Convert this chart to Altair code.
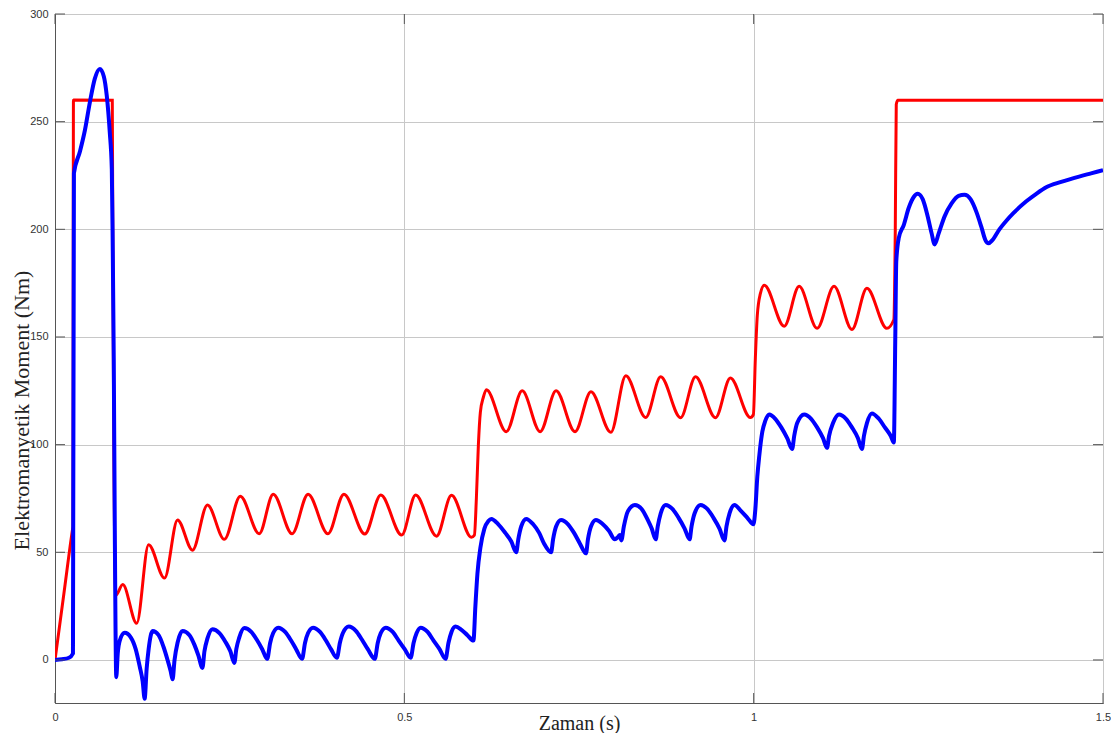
import altair as alt
import pandas as pd

# Reference (commanded) torque - red
ref_t = [0.0000, 0.0128, 0.0250, 0.0257, 0.0264, 0.0820, 0.0827, 0.0870, 0.0970, 0.1169, 0.1340, 0.1568,
         0.1754, 0.1968, 0.2182, 0.2424, 0.2652, 0.2923, 0.3123, 0.3394, 0.3622, 0.3907,
         0.4135, 0.4434, 0.4663, 0.4962, 0.5162, 0.5461, 0.5675, 0.5960, 0.6003, 0.6031,
         0.6060, 0.6088, 0.6131, 0.6174, 0.6459, 0.6687, 0.6944, 0.7172, 0.7443, 0.7671,
         0.7956, 0.8170, 0.8455, 0.8669, 0.8954, 0.9168, 0.9453, 0.9667, 0.9953, 0.9996,
         1.0024, 1.0052, 1.0095, 1.0152, 1.0437, 1.0651, 1.0908, 1.1150, 1.1407, 1.1621,
         1.1906, 1.2006, 1.2027, 1.2041, 1.2063, 1.5000]
ref_y = [0, 31, 60.5, 62, 260, 260, 200, 30, 35, 17, 53.5, 38,
         65, 51, 72, 56, 76, 58.6, 77, 58.6, 77, 58.6,
         77, 58.5, 76.6, 58, 76.6, 57.5, 76.5, 57, 58, 75,
         100, 115, 122, 125.5, 106, 125, 106, 125, 106, 124.6,
         105.7, 132, 112.6, 131.5, 112.5, 131.5, 112.5, 131, 112.6, 114,
         140, 160, 170, 174, 155, 173.5, 154, 173.5, 153.5, 172.6,
         154, 158, 200, 258, 260, 260]

# Actual electromagnetic torque - blue
act_t = [0.0000, 0.0100, 0.0200, 0.0257, 0.0271, 0.0356, 0.0428, 0.0499, 0.0570, 0.0642,
         0.0699, 0.0741, 0.0784, 0.0813, 0.0827, 0.0841, 0.0856, 0.0877, 0.0898, 0.0927,
         0.0998, 0.1084, 0.1155, 0.1212, 0.1255, 0.1283, 0.1312, 0.1340, 0.1397, 0.1483,
         0.1554, 0.1611, 0.1654, 0.1683, 0.1711, 0.1754, 0.1825, 0.1925, 0.1996, 0.2053,
         0.2110, 0.2139, 0.2182, 0.2253, 0.2353, 0.2438, 0.2510, 0.2567, 0.2595, 0.2638,
         0.2709, 0.2809, 0.2895, 0.2966, 0.3037, 0.3080, 0.3123, 0.3194, 0.3294, 0.3379,
         0.3451, 0.3536, 0.3579, 0.3622, 0.3693, 0.3793, 0.3878, 0.3950, 0.4035, 0.4078,
         0.4121, 0.4206, 0.4306, 0.4392, 0.4477, 0.4577, 0.4620, 0.4663, 0.4734, 0.4834,
         0.4919, 0.5005, 0.5091, 0.5133, 0.5176, 0.5233, 0.5333, 0.5418, 0.5504, 0.5590,
         0.5632, 0.5675, 0.5732, 0.5818, 0.5903, 0.5989, 0.6017, 0.6046, 0.6088, 0.6146,
         0.6203, 0.6245, 0.6345, 0.6445, 0.6531, 0.6602, 0.6631, 0.6673, 0.6744, 0.6844,
         0.6930, 0.7001, 0.7101, 0.7129, 0.7172, 0.7243, 0.7343, 0.7429, 0.7514, 0.7600,
         0.7628, 0.7671, 0.7742, 0.7842, 0.7928, 0.8013, 0.8056, 0.8085, 0.8106, 0.8142,
         0.8199, 0.8299, 0.8399, 0.8484, 0.8541, 0.8598, 0.8627, 0.8669, 0.8741, 0.8840,
         0.8926, 0.9012, 0.9083, 0.9111, 0.9154, 0.9240, 0.9339, 0.9425, 0.9511, 0.9582,
         0.9611, 0.9654, 0.9725, 0.9824, 0.9910, 0.9996, 1.0024, 1.0052, 1.0081, 1.0124,
         1.0166, 1.0223, 1.0309, 1.0395, 1.0480, 1.0551, 1.0580, 1.0623, 1.0723, 1.0822,
         1.0908, 1.0993, 1.1050, 1.1079, 1.1136, 1.1221, 1.1321, 1.1407, 1.1493, 1.1550,
         1.1578, 1.1621, 1.1692, 1.1792, 1.1878, 1.1963, 1.2006, 1.2027, 1.2041, 1.2077,
         1.2148, 1.2220, 1.2291, 1.2348, 1.2419, 1.2491, 1.2548, 1.2590, 1.2647, 1.2733,
         1.2833, 1.2933, 1.3018, 1.3104, 1.3189, 1.3260, 1.3317, 1.3360, 1.3417, 1.3517,
         1.3617, 1.3717, 1.3902, 1.4045, 1.4187, 1.4401, 1.4658, 1.4829, 1.5000]
act_y = [0, 0.3, 1, 3, 226, 236, 246, 259, 270, 274.5,
         271, 262, 245, 228, 190, 140, 60, -8, 3, 9,
         12.6, 10.5, 5, -3, -10, -18, -4, 5, 13.4, 11.5,
         6, 0, -5, -9, 0, 8, 13.4, 11.5, 7, 2,
         -3.7, 4, 10, 14.3, 12.5, 8.5, 4, -1.4, 5, 10.5,
         14.8, 13, 9, 5, 0.5, 8, 12.5, 15, 13, 9,
         5, 0.5, 8, 12.5, 15, 13, 9, 5, 1, 8,
         12.5, 15.5, 13.5, 9.5, 5, 0.5, 8, 12.5, 15, 13,
         9, 5, 1, 8, 12.5, 15, 13, 9, 5, 0.5,
         8, 13, 15.5, 14, 11.5, 9, 25, 40, 52, 61,
         64.5, 65.5, 63, 59, 55, 50, 56, 62, 65.5, 63,
         59, 54, 50, 56, 62, 65, 63, 59, 54, 49.5,
         56, 62, 65, 63, 60, 56, 57, 58, 55.5, 62,
         69, 72, 70, 65, 61, 56, 62, 68, 72, 70,
         66, 61, 56, 62, 68, 72, 70, 66, 61, 55.5,
         62, 68, 72, 69, 66, 63, 70, 85, 95, 106,
         111, 114, 112, 108, 103, 98, 104, 110, 114, 112,
         108, 103, 98.5, 104, 110, 114, 112, 108, 103, 98,
         104, 110, 114.5, 112, 108, 104, 101, 150, 185, 196,
         202, 210, 215, 216.5, 214, 206, 198, 193, 198, 206,
         212, 215.5, 216, 214, 208, 201, 195, 193.5, 195, 200,
         204, 207.5, 213, 216.5, 219.5, 222, 224.5, 226, 227.5]

x_ticks = [0, 0.5, 1, 1.5]
y_ticks = [0, 50, 100, 150, 200, 250, 300]

ref_df = pd.DataFrame({"t": ref_t, "y": ref_y})
act_df = pd.DataFrame({"t": act_t, "y": act_y})
xt_df = pd.DataFrame({"t": x_ticks})
yt_df = pd.DataFrame({"y": y_ticks})

W, H = 1048, 689

x_scale = alt.Scale(domain=[0, 1.5], nice=False, zero=False)
y_scale = alt.Scale(domain=[-20, 300], nice=False, zero=False)

x_axis = alt.Axis(values=x_ticks, title="Zaman (s)", labelExpr="toString(datum.value)",
                  labelPadding=8, labelFlush=False, titleFontSize=20, titleY=10,
                  titleBaseline="top", titleAlign="center")
y_axis = alt.Axis(values=y_ticks, title="Elektromanyetik Moment (Nm)",
                  labelPadding=7, labelFlush=False, titleFontSize=22, titleX=-27, titleY=396,
                  titleBaseline="alphabetic", titleAngle=270, titleAlign="center")

X = alt.X("t:Q", scale=x_scale, axis=x_axis)
Y = alt.Y("y:Q", scale=y_scale, axis=y_axis)

red = alt.Chart(ref_df).mark_line(color="#ff0000", strokeWidth=3, interpolate="monotone", clip=True).encode(x=X, y=Y)
blue = alt.Chart(act_df).mark_line(color="#0000ff", strokeWidth=4, interpolate="monotone", clip=True).encode(x=X, y=Y)

tick_color = "#555555"
left_ticks = alt.Chart(yt_df).mark_rule(color=tick_color, strokeWidth=1).encode(
    y=Y, x=alt.value(0), x2=alt.value(10))
right_ticks = alt.Chart(yt_df).mark_rule(color=tick_color, strokeWidth=1).encode(
    y=Y, x=alt.value(W - 10), x2=alt.value(W))
bottom_ticks = alt.Chart(xt_df).mark_rule(color=tick_color, strokeWidth=1).encode(
    x=X, y=alt.value(H - 10), y2=alt.value(H))
top_ticks = alt.Chart(xt_df).mark_rule(color=tick_color, strokeWidth=1).encode(
    x=X, y=alt.value(0), y2=alt.value(10))

chart = alt.layer(red, blue, left_ticks, right_ticks, bottom_ticks, top_ticks).properties(
    width=W, height=H,
    autosize=alt.AutoSizeParams(type="none"),
    padding={"left": 47, "top": 6, "right": 8, "bottom": 30},
    background="white",
).configure_axis(
    grid=True, gridColor="#c8c8c8", gridWidth=1,
    domainColor="#555555", ticks=False,
    labelFont="Liberation Sans", labelFontSize=11, labelColor="#333333",
    titleFont="Liberation Serif", titleFontWeight="normal", titleColor="#222222",
).configure_view(stroke="#555555", strokeWidth=1)

chart.save("out.html", embed_options={"renderer": "svg", "actions": False})
